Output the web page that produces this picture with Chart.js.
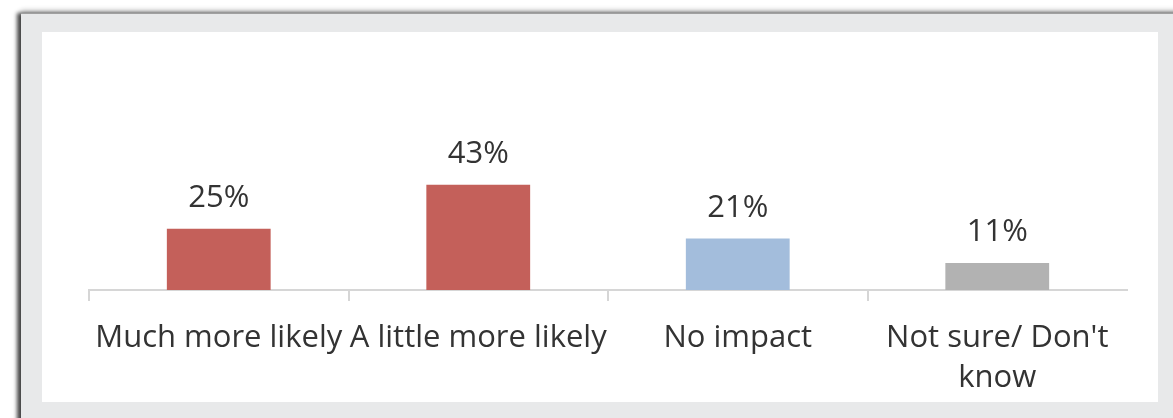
<!DOCTYPE html>
<html><head><meta charset="utf-8">
<script src="https://cdn.jsdelivr.net/npm/chart.js@4"></script>
<style>
html,body{margin:0;padding:0;background:#fff;width:1173px;height:418px;overflow:hidden;}
#frame{position:absolute;left:21px;top:13px;width:1170px;height:420px;background:#e8e9ea;border-top:1px solid #a0a0a0;box-shadow:-4px 0 4px rgba(0,0,0,0.7),0 -3px 5px rgba(0,0,0,0.2);}
#panel{position:absolute;left:42px;top:32px;width:1116px;height:370px;background:#fff;}
canvas{display:block;}
</style></head><body>
<div id="frame"></div>
<div id="panel"><canvas id="c" width="1116" height="370"></canvas></div>
<script>
const categories = ['Much more likely', 'A little more likely', 'No impact', ["Not sure/ Don't", 'know']];
const values = [25, 43, 21, 11];
const valueLabels = ['25%', '43%', '21%', '11%'];

const barColors = ['#c4605a', '#c4605a', '#a3bddc', '#b2b2b2'];
const textColor = '#333333';
const axisColor = '#d6d6d6';

const valueLabelPlugin = {
  id: 'valueLabels',
  afterDatasetsDraw(chart) {
    const ctx = chart.ctx;
    const meta = chart.getDatasetMeta(0);
    ctx.save();
    ctx.font = '31px "Open Sans"';
    ctx.fillStyle = textColor;
    ctx.textAlign = 'center';
    ctx.textBaseline = 'alphabetic';
    meta.data.forEach((bar, i) => {
      ctx.fillText(valueLabels[i], bar.x, bar.y - 22);
    });
    ctx.restore();
  }
};

new Chart(document.getElementById('c'), {
  type: 'bar',
  data: {
    labels: categories,
    datasets: [{
      data: values,
      backgroundColor: barColors,
      borderWidth: 0,
      categoryPercentage: 0.8,
      barPercentage: 0.5
    }]
  },
  options: {
    responsive: false,
    animation: false,
    layout: { padding: { left: 47, right: 31, top: 13, bottom: 0 } },
    plugins: { legend: { display: false }, tooltip: { enabled: false } },
    scales: {
      y: { display: false, min: 0, max: 100 },
      x: {
        offset: true,
        grid: {
          offset: true,
          drawOnChartArea: false,
          drawTicks: true,
          tickLength: 11,
          lineWidth: 2,
          color: (c) => c.type === 'tick' ? axisColor : 'rgba(0,0,0,0)'
        },
        border: { display: true, color: axisColor, width: 2 },
        ticks: {
          autoSkip: false,
          maxRotation: 0,
          minRotation: 0,
          padding: 17,
          color: textColor,
          font: { family: '"Open Sans"', size: 31, lineHeight: 40 / 31 }
        },
        afterFit: (s) => { s.height = 112; }
      }
    }
  },
  plugins: [valueLabelPlugin]
});
</script>
</body></html>
